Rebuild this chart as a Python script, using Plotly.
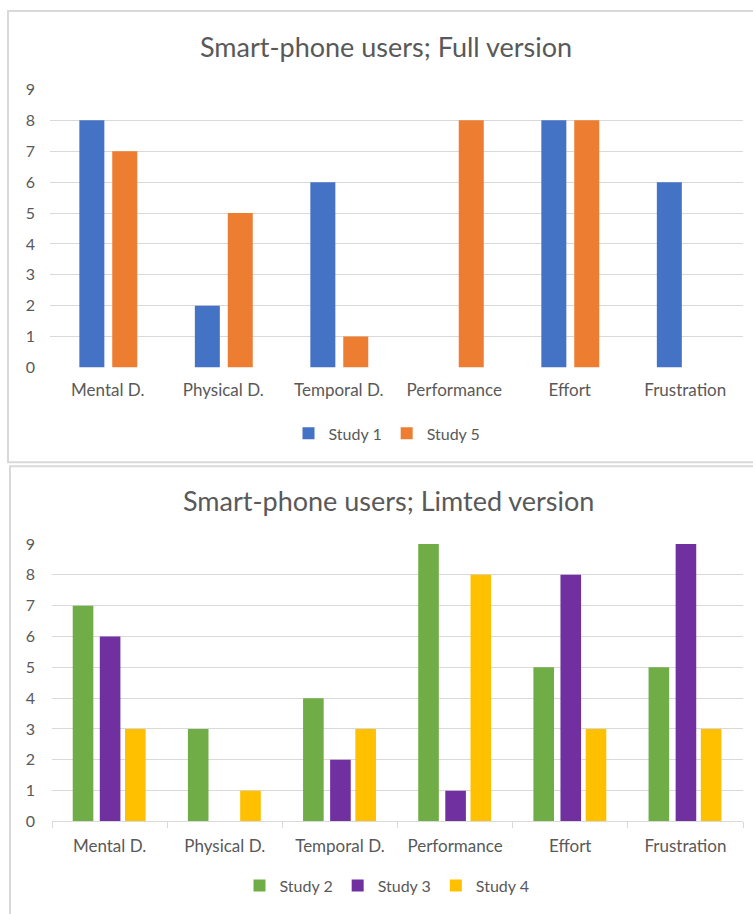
import plotly.graph_objects as go

# Categories and study scores
categories = ["Mental D.", "Physical D.", "Temporal D.", "Performance", "Effort", "Frustration"]

full_study1 = [8, 2, 6, 0, 8, 6]
full_study5 = [7, 5, 1, 8, 8, 0]

lim_study2 = [7, 3, 4, 9, 5, 5]
lim_study3 = [6, 0, 2, 1, 8, 9]
lim_study4 = [3, 1, 3, 8, 3, 3]

y_ticks = list(range(0, 10))

W, H = 753, 914
FONT = "Lato, 'Open Sans', sans-serif"
TXT = "#595959"
GRID = "#D9D9D9"

# the page puts an 8px band above the figure; vertical page positions map to paper here
TOP_BAND = 7.9
V_SCALE = 0.983


def py(y):
    return 1 - ((y - TOP_BAND) / V_SCALE) / H


def px_(x):
    return x / W


fig = go.Figure()

# Full version panel
top_series = [
    ("Study 1", full_study1, "#4472C4", -0.246),
    ("Study 5", full_study5, "#ED7D31", 0.039),
]
for name, vals, col, off in top_series:
    fig.add_trace(go.Bar(
        x=categories, y=vals, name=name, marker=dict(color=col, line=dict(width=0)),
        width=0.2165, offset=off, xaxis="x", yaxis="y", legend="legend",
    ))

# Limited version panel
bot_series = [
    ("Study 2", lim_study2, "#70AD47", -0.32),
    ("Study 3", lim_study3, "#7030A0", -0.085),
    ("Study 4", lim_study4, "#FFC000", 0.134),
]
for name, vals, col, off in bot_series:
    fig.add_trace(go.Bar(
        x=categories, y=vals, name=name, marker=dict(color=col, line=dict(width=0)),
        width=0.179, offset=off, xaxis="x2", yaxis="y2", legend="legend2",
    ))

axis_font = dict(family=FONT, size=17, color=TXT)
ytick_font = dict(family=FONT, size=16, color=TXT)
legend_font = dict(family=FONT, size=16, color=TXT)

fig.update_layout(
    width=W, height=H,
    margin=dict(l=0, r=0, t=0, b=0),
    paper_bgcolor="white", plot_bgcolor="white",
    barmode="overlay",
    font=dict(family=FONT, color=TXT),
    xaxis=dict(domain=[px_(50), px_(743)], anchor="y", showgrid=False, zeroline=False,
               showline=False, ticks="", tickfont=axis_font, ticklabelstandoff=11),
    yaxis=dict(domain=[py(366.7), py(87.7)], anchor="x", range=[0, 9], tickvals=y_ticks,
               showgrid=True, gridcolor=GRID, gridwidth=1, zeroline=False, showline=False,
               tickfont=ytick_font, ticklabelstandoff=14),
    xaxis2=dict(domain=[px_(52), px_(743)], anchor="y2", showgrid=False, zeroline=False,
                showline=True, linecolor=GRID, linewidth=1, ticks="outside",
                tickson="boundaries", ticklen=6, tickcolor=GRID, tickwidth=1,
                tickfont=axis_font, ticklabelstandoff=9),
    yaxis2=dict(domain=[py(822.5), py(544)], anchor="x2", range=[0, 9], tickvals=y_ticks,
                showgrid=True, gridcolor=GRID, gridwidth=1, zeroline=False, showline=False,
                tickfont=ytick_font, ticklabelstandoff=16),
    legend=dict(orientation="h", x=px_(387), xanchor="center", y=py(433), yanchor="middle",
                font=legend_font, itemwidth=30, bgcolor="rgba(0,0,0,0)"),
    legend2=dict(orientation="h", x=px_(387), xanchor="center", y=py(887), yanchor="middle",
                 font=legend_font, itemwidth=30, bgcolor="rgba(0,0,0,0)"),
    showlegend=True,
)

# Panel titles
fig.add_annotation(text="Smart-phone users; Full version", xref="paper", yref="paper",
                   x=px_(386), y=py(45), xanchor="center", yanchor="middle", showarrow=False,
                   font=dict(family=FONT, size=27, color=TXT))
fig.add_annotation(text="Smart-phone users; Limted version", xref="paper", yref="paper",
                   x=px_(388), y=py(500), xanchor="center", yanchor="middle", showarrow=False,
                   font=dict(family=FONT, size=27, color=TXT))

# Chart frames
fig.add_shape(type="rect", xref="paper", yref="paper", x0=px_(8), x1=px_(770),
              y0=py(462), y1=1 - 1 / H, line=dict(color=GRID, width=2), layer="below")
fig.add_shape(type="rect", xref="paper", yref="paper", x0=px_(10), x1=px_(770),
              y0=-0.05, y1=py(466), line=dict(color=GRID, width=2), layer="below")

fig.write_html("out.html")
